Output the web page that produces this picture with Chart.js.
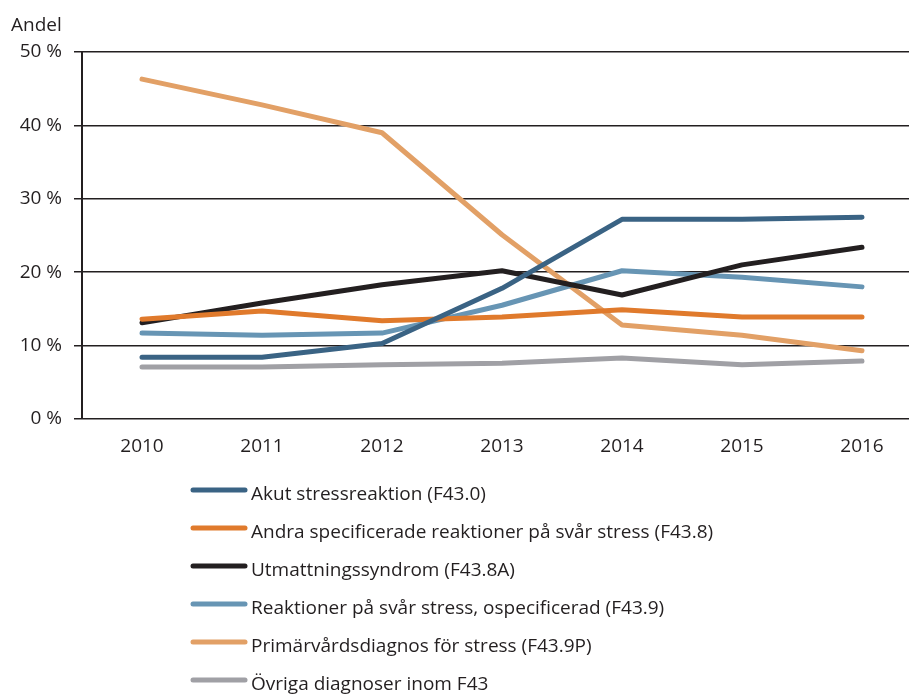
<!DOCTYPE html>
<html>
<head>
<meta charset="utf-8">
<script src="https://cdn.jsdelivr.net/npm/chart.js@4/dist/chart.umd.min.js"></script>
<style>
  html, body { margin: 0; padding: 0; background: #fff; overflow: hidden; }
  #wrap { width: 922px; height: 695px; }
</style>
</head>
<body>
<div id="wrap"><canvas id="c" width="922" height="695"></canvas></div>
<script>
const years = ['2010', '2011', '2012', '2013', '2014', '2015', '2016'];
const yTicks = [0, 10, 20, 30, 40, 50];

const seriesNames = [
  'Akut stressreaktion (F43.0)',
  'Andra specificerade reaktioner på svår stress (F43.8)',
  'Utmattningssyndrom (F43.8A)',
  'Reaktioner på svår stress, ospecificerad (F43.9)',
  'Primärvårdsdiagnos för stress (F43.9P)',
  'Övriga diagnoser inom F43'
];
const akut       = [8.4, 8.4, 10.3, 17.8, 27.2, 27.2, 27.5];
const andra      = [13.6, 14.7, 13.4, 13.9, 14.9, 13.9, 13.9];
const utmattning = [13.1, 15.8, 18.3, 20.2, 16.9, 21.0, 23.4];
const reaktioner = [11.7, 11.4, 11.7, 15.5, 20.2, 19.3, 18.0];
const primar     = [46.3, 42.8, 39.0, 25.1, 12.8, 11.4, 9.3];
const ovriga     = [7.1, 7.1, 7.4, 7.6, 8.3, 7.4, 7.9];
const colors = ['#3A6384', '#E07A2C', '#231F20', '#6795B4', '#E2A066', '#A0A0A5'];

const values = [akut, andra, utmattning, reaktioner, primar, ovriga];
const FONT = '"Open Sans", sans-serif';
const FS = 19;
const INK = '#231F20';

const legendPlugin = {
  id: 'vlegend',
  afterDraw(chart) {
    const ctx = chart.ctx;
    ctx.save();
    ctx.font = FS + 'px ' + FONT;
    ctx.textBaseline = 'alphabetic';
    ctx.textAlign = 'left';
    chart.data.datasets.forEach((ds, i) => {
      const y = 490 + i * 38;
      ctx.strokeStyle = ds.borderColor;
      ctx.lineWidth = 5;
      ctx.lineCap = 'round';
      ctx.beginPath();
      ctx.moveTo(193, y);
      ctx.lineTo(245, y);
      ctx.stroke();
      ctx.fillStyle = INK;
      ctx.fillText(ds.label, 251, y + 10);
    });
    // axis title
    ctx.fillStyle = INK;
    ctx.fillText('Andel', 11, 31);
    ctx.restore();
  }
};

new Chart(document.getElementById('c'), {
  type: 'line',
  data: {
    labels: years,
    datasets: seriesNames.map((name, i) => ({
      label: name,
      data: values[i],
      borderColor: colors[i],
      backgroundColor: colors[i],
      borderWidth: 5,
      pointRadius: 0,
      borderCapStyle: 'round',
      borderJoinStyle: 'round',
      tension: 0
    }))
  },
  options: {
    responsive: false,
    animation: false,
    layout: { padding: { top: 52, right: 0, bottom: 220, left: 0 } },
    plugins: {
      legend: { display: false },
      tooltip: { enabled: false },
      title: { display: false }
    },
    scales: {
      x: {
        offset: true,
        grid: { display: false, drawTicks: false },
        border: { display: false },
        ticks: { color: INK, font: { family: FONT, size: FS }, padding: 16 },
        afterFit(s) { s.height = 56; }
      },
      y: {
        min: 0, max: 50,
        afterBuildTicks(s) { s.ticks = yTicks.map(v => ({ value: v })); },
        grid: { color: INK, lineWidth: 1.5, tickLength: 8, drawTicks: true },
        border: { display: true, color: INK, width: 2 },
        ticks: {
          color: INK, font: { family: FONT, size: FS }, padding: 12,
          callback: v => v + ' %'
        },
        afterFit(s) { s.width = 82; }
      }
    }
  },
  plugins: [legendPlugin]
});
</script>
</body>
</html>
